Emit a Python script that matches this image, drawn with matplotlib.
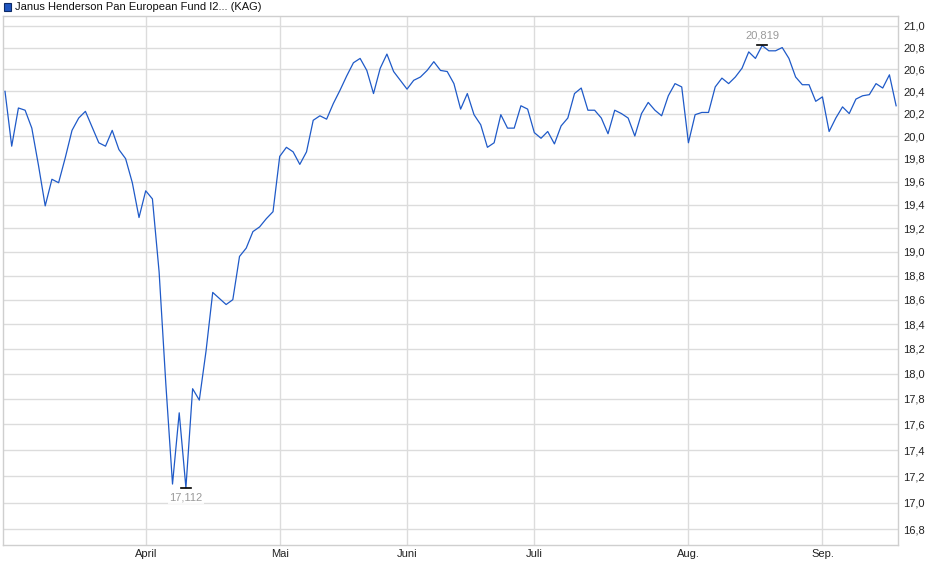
import matplotlib
matplotlib.use("Agg")
import matplotlib.pyplot as plt
from matplotlib.patches import Rectangle
from matplotlib.ticker import NullLocator

plt.rcParams["font.family"] = ["Liberation Sans", "DejaVu Sans"]

# Fondsname
titel = "Janus Henderson Pan European Fund I2... (KAG)"

# Kursverlauf (ein Wert je Handelstag, Maerz bis Mitte September)
kurs = [
    20.40, 19.91, 20.25, 20.23, 20.07, 19.74, 19.39, 19.62, 19.59, 19.81,
    20.05, 20.16, 20.22, 20.08, 19.94, 19.91, 20.05, 19.88, 19.80, 19.59,
    19.29, 19.52, 19.45, 18.83, 17.92, 17.14, 17.69, 17.112, 17.88, 17.79,
    18.18, 18.66, 18.61, 18.56, 18.60, 18.96, 19.03, 19.17, 19.21, 19.28,
    19.34, 19.82, 19.90, 19.86, 19.75, 19.86, 20.14, 20.18, 20.15, 20.29,
    20.41, 20.54, 20.66, 20.70, 20.59, 20.38, 20.61, 20.74, 20.58, 20.50,
    20.42, 20.50, 20.53, 20.59, 20.67, 20.59, 20.58, 20.47, 20.24, 20.38,
    20.19, 20.10, 19.90, 19.94, 20.19, 20.07, 20.07, 20.27, 20.24, 20.03,
    19.98, 20.04, 19.93, 20.09, 20.16, 20.38, 20.43, 20.23, 20.23, 20.16,
    20.02, 20.23, 20.20, 20.16, 20.00, 20.20, 20.30, 20.23, 20.18, 20.36,
    20.47, 20.44, 19.94, 20.19, 20.21, 20.21, 20.44, 20.52, 20.47, 20.53,
    20.61, 20.76, 20.70, 20.819, 20.77, 20.77, 20.80, 20.70, 20.53, 20.46,
    20.46, 20.31, 20.35, 20.04, 20.16, 20.26, 20.20, 20.33, 20.36, 20.37,
    20.47, 20.43, 20.55, 20.27,
]

# Monatsanfang (Index des ersten Handelstages)
monate = ["April", "Mai", "Juni", "Juli", "Aug.", "Sep."]
monat_idx = [21, 41, 60, 79, 102, 122]

# Skala rechts
y_ticks = [16.8, 17.0, 17.2, 17.4, 17.6, 17.8, 18.0, 18.2, 18.4, 18.6, 18.8,
           19.0, 19.2, 19.4, 19.6, 19.8, 20.0, 20.2, 20.4, 20.6, 20.8, 21.0]

W, H = 940, 579
fig = plt.figure(figsize=(W / 100, H / 100), dpi=100)
ax = fig.add_axes([3 / W, (H - 545) / H, (898 - 3) / W, (545 - 16) / H])

grau = "#dcdcdc"
tage = list(range(len(kurs)))
ax.plot(tage, kurs, color="#1f5ac8", linewidth=0.9, zorder=3)

ax.set_yscale("log")
ax.set_ylim(16.683, 21.093)
ax.set_xlim(-0.3, 133.28)
ax.set_yticks(y_ticks)
ax.set_yticklabels([f"{t:.1f}".replace(".", ",") for t in y_ticks])
ax.yaxis.set_minor_locator(NullLocator())
ax.yaxis.tick_right()
ax.set_xticks(monat_idx)
ax.set_xticklabels(monate)
ax.xaxis.set_minor_locator(NullLocator())
ax.tick_params(axis="both", length=0, labelsize=8, colors="#222222")
ax.tick_params(axis="y", pad=4)
ax.tick_params(axis="x", pad=3)
ax.grid(True, color=grau, linewidth=1.0)
for s in ax.spines.values():
    s.set_color("#cfcfcf")
    s.set_linewidth(1.0)

# Hoch- und Tiefpunkt markieren
i_min = kurs.index(min(kurs))
i_max = kurs.index(max(kurs))
for i, dy in [(i_min, -10), (i_max, 10)]:
    v = kurs[i]
    ax.plot([i - 0.7, i + 0.7], [v, v], color="black", linewidth=1.2, zorder=4)
    ax.annotate(f"{v:.3f}".replace(".", ","), (i, v), xytext=(0, dy * 0.72),
                textcoords="offset points", ha="center", va="center", fontsize=8,
                color="#9a9a9a", zorder=5,
                bbox=dict(boxstyle="square,pad=0.15", fc="white", ec="none", alpha=0.85))

# Legende oben links
fig.add_artist(Rectangle((3.5 / W, 1 - 10.5 / H), 7 / W, 7.5 / H, transform=fig.transFigure,
                         facecolor="#1f55c0", edgecolor="#0d2a66", linewidth=0.8))
fig.text(15 / W, 1 - 7 / H, titel, fontsize=8, color="#111111", va="center", ha="left")

fig.savefig("out.png", dpi=100)
